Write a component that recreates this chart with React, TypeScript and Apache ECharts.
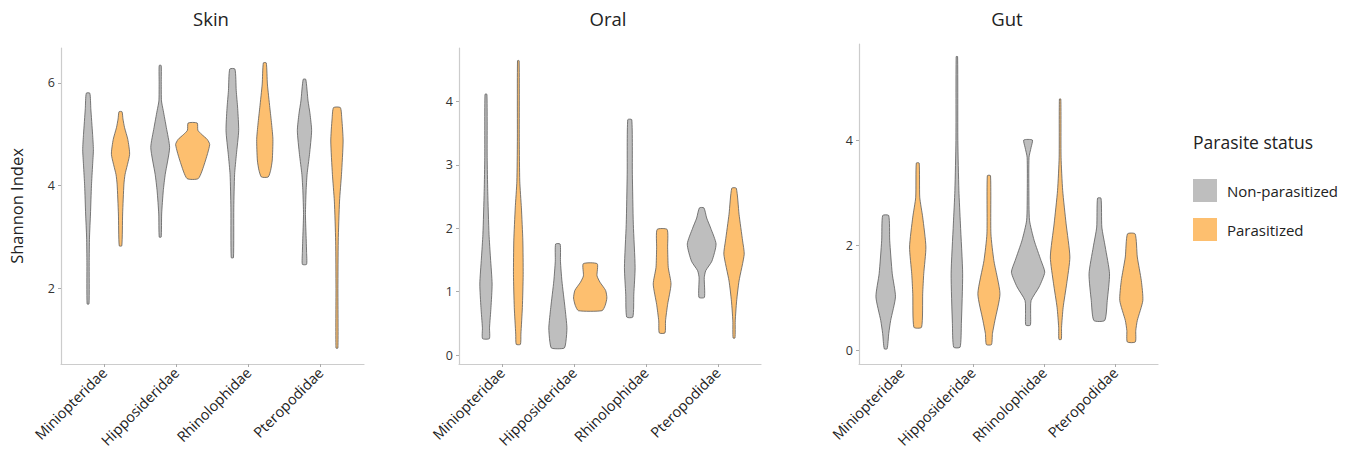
import React, { useEffect, useRef } from "react";
import * as echarts from "echarts";

// ---------- data ----------
const categories = ["Miniopteridae", "Hipposideridae", "Rhinolophidae", "Pteropodidae"];
const panelTitles = ["Skin", "Oral", "Gut"];
const statusNames = ["Non-parasitized", "Parasitized"];
const yTickValues = [
  [2, 4, 6],
  [0, 1, 2, 3, 4],
  [0, 2, 4],
];
const yRanges = [
  [0.53, 6.68],
  [-0.14, 4.84],
  [-0.26, 5.84],
];

// Violin outlines: [Shannon index, relative half-width of density] per category
type Knot = [number, number];

const skinNonParasitized: Knot[][] = [
  [[1.7, 0.06], [2.5, 0.07], [3.0, 0.09], [3.45, 0.15], [4.0, 0.21], [4.4, 0.28], [4.7, 0.33], [5.0, 0.28], [5.5, 0.17], [5.8, 0.11]],
  [[3.0, 0.06], [3.45, 0.09], [3.9, 0.19], [4.22, 0.31], [4.74, 0.58], [5.13, 0.38], [5.46, 0.19], [5.65, 0.08], [6.0, 0.065], [6.34, 0.06]],
  [[2.6, 0.07], [3.57, 0.09], [4.22, 0.14], [4.61, 0.25], [5.07, 0.39], [5.5, 0.33], [5.85, 0.24], [6.27, 0.16]],
  [[2.47, 0.13], [2.7, 0.13], [2.92, 0.11], [3.44, 0.06], [3.9, 0.1], [4.22, 0.16], [4.61, 0.31], [5.07, 0.44], [5.4, 0.34], [5.65, 0.22], [6.07, 0.08]],
];
const skinParasitized: Knot[][] = [
  [[2.83, 0.08], [3.45, 0.13], [4.03, 0.21], [4.22, 0.28], [4.61, 0.56], [4.9, 0.45], [5.13, 0.25], [5.3, 0.15], [5.44, 0.09]],
  [[4.14, 0.35], [4.45, 0.75], [4.8, 1.05], [4.9, 0.9], [5.0, 0.55], [5.08, 0.32], [5.22, 0.28]],
  [[4.17, 0.21], [4.3, 0.36], [4.5, 0.46], [4.9, 0.5], [5.2, 0.42], [5.52, 0.31], [5.98, 0.16], [6.39, 0.09]],
  [[0.84, 0.06], [2.0, 0.06], [2.92, 0.08], [3.7, 0.16], [4.22, 0.28], [4.87, 0.38], [5.3, 0.3], [5.52, 0.21]],
];

const oralNonParasitized: Knot[][] = [
  [[0.26, 0.21], [0.43, 0.22], [0.75, 0.31], [1.12, 0.38], [1.53, 0.28], [1.9, 0.19], [2.58, 0.11], [3.11, 0.075], [4.11, 0.06]],
  [[0.11, 0.39], [0.22, 0.5], [0.43, 0.56], [0.75, 0.44], [1.17, 0.25], [1.48, 0.16], [1.75, 0.14]],
  [[0.6, 0.19], [0.96, 0.25], [1.38, 0.33], [2.06, 0.22], [2.85, 0.16], [3.71, 0.125]],
  [[0.91, 0.17], [1.22, 0.16], [1.33, 0.25], [1.48, 0.63], [1.75, 0.89], [2.0, 0.56], [2.16, 0.31], [2.32, 0.14]],
];
const oralParasitized: Knot[][] = [
  [[0.17, 0.13], [0.33, 0.16], [0.75, 0.25], [1.27, 0.3], [1.8, 0.28], [2.32, 0.19], [2.74, 0.09], [3.37, 0.06], [4.64, 0.05]],
  [[0.7, 0.73], [0.78, 0.92], [0.9, 1.03], [1.02, 0.95], [1.15, 0.6], [1.25, 0.42], [1.44, 0.43]],
  [[0.35, 0.175], [0.54, 0.21], [0.8, 0.34], [1.12, 0.55], [1.38, 0.38], [1.69, 0.34], [1.98, 0.31]],
  [[0.27, 0.06], [0.54, 0.075], [0.85, 0.16], [1.17, 0.31], [1.59, 0.63], [1.8, 0.53], [2.22, 0.31], [2.63, 0.14]],
];

const gutNonParasitized: Knot[][] = [
  [[0.03, 0.09], [0.32, 0.19], [0.57, 0.31], [1.02, 0.61], [1.46, 0.41], [2.1, 0.25], [2.57, 0.19]],
  [[0.06, 0.2], [0.51, 0.28], [1.46, 0.36], [2.41, 0.22], [3.05, 0.125], [4.0, 0.06], [5.6, 0.045]],
  [[0.48, 0.14], [0.7, 0.16], [0.95, 0.19], [1.21, 0.69], [1.49, 1.04], [1.71, 0.81], [2.1, 0.375], [2.48, 0.09], [3.05, 0.05], [3.68, 0.06], [3.87, 0.19], [4.01, 0.27]],
  [[0.57, 0.34], [0.95, 0.5], [1.46, 0.64], [1.97, 0.375], [2.35, 0.16], [2.9, 0.11]],
];
const gutParasitized: Knot[][] = [
  [[0.44, 0.24], [1.08, 0.31], [1.46, 0.375], [1.97, 0.51], [2.54, 0.31], [2.92, 0.125], [3.57, 0.09]],
  [[0.11, 0.16], [0.32, 0.22], [0.57, 0.375], [1.08, 0.69], [1.71, 0.31], [2.22, 0.125], [3.33, 0.1]],
  [[0.21, 0.075], [0.44, 0.09], [0.82, 0.19], [1.27, 0.41], [1.78, 0.61], [2.41, 0.375], [3.05, 0.16], [3.68, 0.06], [4.79, 0.045]],
  [[0.16, 0.25], [0.38, 0.28], [0.57, 0.375], [0.95, 0.72], [1.33, 0.625], [1.78, 0.375], [2.22, 0.24]],
];

const panelProfiles: Knot[][][][] = [
  [skinNonParasitized, skinParasitized],
  [oralNonParasitized, oralParasitized],
  [gutNonParasitized, gutParasitized],
];

// ---------- styling ----------
const FONT = "Open Sans";
const statusColors = ["#BEBEBE", "#FDBF6F"];
const OUTLINE = "#5a5a5a";
const DODGE = 0.225;
const HALF = 0.225;

const grids = [
  { left: 61, top: 48, width: 303, height: 316, outerBoundsMode: "none", containLabel: false },
  { left: 459, top: 48, width: 302, height: 316, outerBoundsMode: "none", containLabel: false },
  { left: 859, top: 44, width: 299, height: 320, outerBoundsMode: "none", containLabel: false },
];
const titleCenters = [211, 608, 1007];

export default function App() {
  const ref = useRef<HTMLDivElement>(null);

  useEffect(() => {
    const chart = echarts.init(ref.current!, null, { renderer: "svg" });

    const xAxes = panelTitles.map((_, p) => ({
      type: "value",
      gridIndex: p,
      min: -0.6,
      max: 3.6,
      splitLine: { show: false },
      axisLine: { show: true, onZero: false, lineStyle: { color: "#cccccc", width: 1.2 } },
      axisTick: { show: true, length: 3, lineStyle: { color: "#aaaaaa" }, customValues: [0, 1, 2, 3] },
      axisLabel: {
        customValues: [0, 1, 2, 3],
        formatter: (v: number) => categories[Math.round(v)] ?? "",
        rotate: 45,
        margin: 6,
        fontSize: 14.5,
        color: "#222",
        fontFamily: FONT,
      },
    }));

    const yAxes = panelTitles.map((_, p) => ({
      type: "value",
      gridIndex: p,
      min: yRanges[p][0],
      max: yRanges[p][1],
      splitLine: { show: false },
      axisLine: { show: true, onZero: false, lineStyle: { color: "#cccccc", width: 1.2 } },
      axisTick: { show: true, length: 3, lineStyle: { color: "#aaaaaa" }, customValues: yTickValues[p] },
      axisLabel: {
        customValues: yTickValues[p],
        margin: 6,
        fontSize: 12.5,
        color: "#333",
        fontFamily: FONT,
      },
      ...(p === 0
        ? {
            name: "Shannon Index",
            nameLocation: "middle",
            nameGap: 36,
            nameTextStyle: { fontSize: 16.5, color: "#222", fontFamily: FONT },
          }
        : {}),
    }));

    const series: any[] = [];
    panelTitles.forEach((_, p) => {
      statusNames.forEach((name, s) => {
        const profiles = panelProfiles[p][s];
        const offset = s === 0 ? -DODGE : DODGE;
        series.push({
          type: "custom",
          name,
          xAxisIndex: p,
          yAxisIndex: p,
          coordinateSystem: "cartesian2d",
          itemStyle: { color: statusColors[s] },
          clip: false,
          encode: { x: 0, y: 1 },
          data: categories.map((_, c) => [c, profiles[c][0][0]]),
          renderItem: (params: any, api: any) => {
            const c = api.value(0);
            const knots = profiles[c];
            const cx = c + offset;
            const right = knots.map((k) => api.coord([cx + k[1] * HALF, k[0]]));
            const left = knots
              .slice()
              .reverse()
              .map((k) => api.coord([cx - k[1] * HALF, k[0]]));
            return {
              type: "polygon",
              shape: { points: right.concat(left), smooth: 0.2 },
              style: { fill: statusColors[s], stroke: OUTLINE, lineWidth: 0.8 },
            };
          },
        });
      });
    });

    const option: any = {
      animation: false,
      backgroundColor: "#ffffff",
      textStyle: { fontFamily: FONT },
      title: [
        ...panelTitles.map((t, p) => ({
          text: t,
          left: titleCenters[p],
          top: 9,
          padding: 0,
          textAlign: "center",
          textStyle: { fontSize: 18.5, fontWeight: "normal", color: "#222", fontFamily: FONT },
        })),
        {
          text: "Parasite status",
          left: 1193,
          top: 133,
          padding: 0,
          textStyle: { fontSize: 17.5, fontWeight: "normal", color: "#222", fontFamily: FONT },
        },
      ],
      legend: {
        data: statusNames,
        orient: "vertical",
        left: 1193,
        top: 179,
        padding: 0,
        itemWidth: 24,
        itemHeight: 23,
        itemGap: 16,
        icon: "rect",
        itemStyle: { borderWidth: 0 },
        selectedMode: false,
        textStyle: { fontSize: 15, color: "#222", fontFamily: FONT, padding: [0, 0, 0, 5] },
      },
      grid: grids,
      xAxis: xAxes,
      yAxis: yAxes,
      series,
    };

    chart.setOption(option);
    return () => chart.dispose();
  }, []);

  return (
    <div
      ref={ref}
      style={{ position: "fixed", left: 0, top: 0, width: 1352, height: 452, background: "#fff" }}
    />
  );
}
